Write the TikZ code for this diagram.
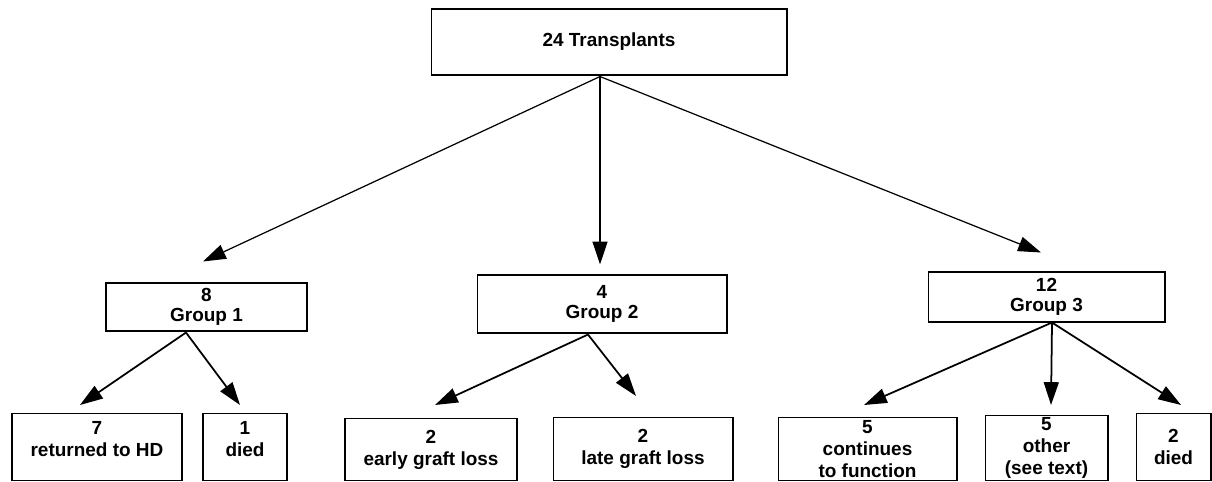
\documentclass[tikz,border=0pt]{standalone}
\usepackage{fontspec}
\setmainfont{Liberation Sans}
\usetikzlibrary{arrows.meta, calc}

\begin{document}
\begin{tikzpicture}[x=0.02cm, y=-0.02cm,
    box/.style={draw, rectangle, line width=0.6pt, inner sep=0pt, align=center,
        font=\fontsize{10.8}{11.5}\selectfont\bfseries},
    leaf/.style={box, anchor=north, font=\fontsize{10.8}{12.5}\selectfont\bfseries},
    arr/.style={-{Triangle[length=13pt,width=8.5pt]}, line width=0.7pt},
    thickarr/.style={arr, line width=1pt}]

    \useasboundingbox (0,0) rectangle (1212,481);

    % Nodes
    \node[box, minimum width=7.12cm, minimum height=1.32cm] (top) at (609,42) {24 Transplants};

    \node[box, minimum width=4.02cm, minimum height=0.96cm] (g1) at (206.5,307) {8\\Group 1};
    \node[box, minimum width=5.0cm, minimum height=1.16cm] (g2) at (602,304) {4\\Group 2};
    \node[box, minimum width=4.74cm, minimum height=1.0cm] (g3) at (1046.5,297) {12\\Group 3};

    \node[leaf, minimum width=3.4cm, minimum height=1.34cm] (ret) at (97,413) {7\\returned to HD\\[-7.5pt]\strut};
    \node[leaf, minimum width=1.68cm, minimum height=1.34cm] (died1) at (245,413) {1\\died\\[-7.5pt]\strut};
    \node[leaf, minimum width=3.44cm, minimum height=1.24cm] (early) at (431,418) {2\\early graft loss};
    \node[leaf, minimum width=3.6cm, minimum height=1.26cm] (late) at (643,417) {2\\late graft loss};
    \node[leaf, minimum width=3.58cm, minimum height=1.26cm] (cont) at (867.5,417) {5\\continues\\to function};
    \node[leaf, minimum width=2.46cm, minimum height=1.3cm] (other) at (1046.5,415) {5\\other\\(see text)};
    \node[leaf, minimum width=1.5cm, minimum height=1.34cm] (died2) at (1173.5,413) {2\\died};

    % Arrows
    \draw[arr] ($(top.south)+(-9,1)$) -- ($(g1.north)+(-3.5,-21)$);
    \draw[arr] ($(top.south)+(-9,1)$) -- ($(g2.north)+(-2,-10)$);
    \draw[arr] ($(top.south)+(-9,1)$) -- ($(g3.north)+(-5.5,-19)$);

    \draw[thickarr] ($(g1.south)+(-20.5,1)$) -- ($(ret.north)+(-17,-8)$);
    \draw[thickarr] ($(g1.south)+(-20.5,1)$) -- ($(died1.north)+(-5,-8)$);

    \draw[thickarr] ($(g2.south)+(-14,1)$) -- ($(early.north)+(4,-13)$);
    \draw[thickarr] ($(g2.south)+(-14,1)$) -- ($(late.north)+(-7,-21)$);

    \draw[thickarr] ($(g3.south)+(5.5,0)$) -- ($(cont.north)+(-3.5,-12)$);
    \draw[thickarr] ($(g3.south)+(5.5,0)$) -- ($(other.north)+(4.5,-10)$);
    \draw[thickarr] ($(g3.south)+(5.5,0)$) -- ($(died2.north)+(7.5,-8)$);

\end{tikzpicture}
\end{document}
